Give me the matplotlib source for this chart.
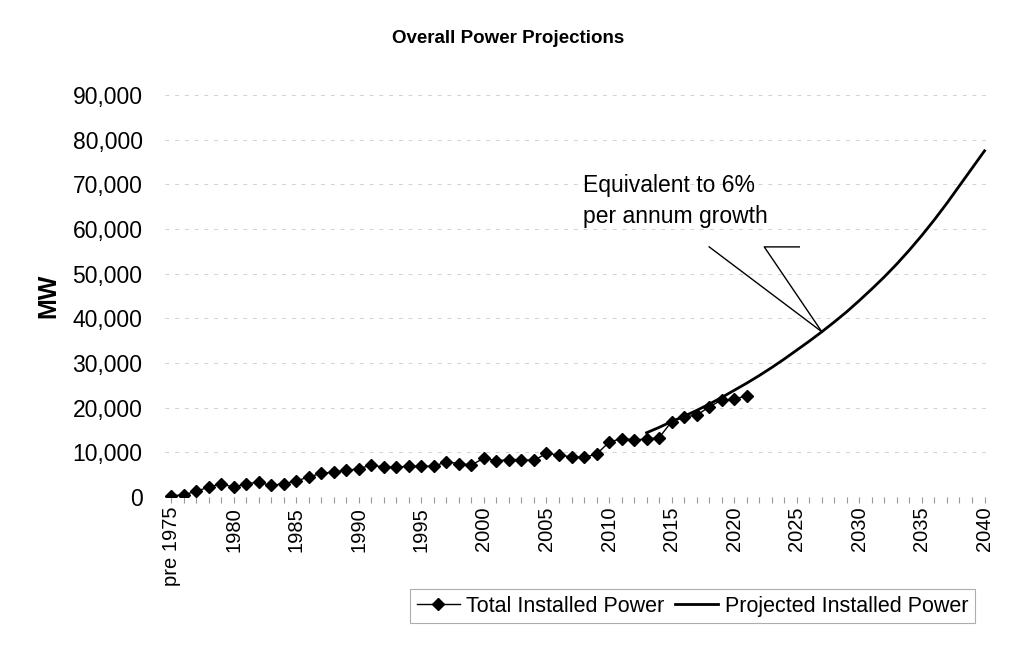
import matplotlib as mpl
mpl.use('Agg')
import matplotlib.pyplot as plt
import numpy as np

plt.rcParams['font.family'] = ['Liberation Sans', 'DejaVu Sans']

# years on the category axis (first one is shown as "pre 1975")
years = list(range(1975, 2041))
tick_labels = ["pre 1975" if y == 1975 else str(y) if y % 5 == 0 else "" for y in years]

# total installed power, MW, 1975..2021
installed_years = list(range(1975, 2022))
installed_mw = [300, 500, 1300, 2200, 3000, 2200, 3000, 3300, 2600, 3000,
                3600, 4500, 5300, 5600, 6000, 6300, 7200, 6700, 6700, 6900,
                6900, 6900, 7900, 7500, 7200, 8700, 8100, 8400, 8400, 8200,
                9800, 9400, 9000, 8900, 9600, 12300, 13100, 12800, 13000, 13300,
                16900, 18000, 18300, 20200, 21700, 21900, 22700]

# projected installed power, MW, 2013..2040
projected_years = list(range(2013, 2041))
projected_mw = [14400, 15600, 16900, 18100, 19400, 20800, 22300, 23900, 25500, 27200,
                29000, 30900, 32900, 34900, 37000, 39200, 41500, 44000, 46600, 49300,
                52200, 55300, 58600, 62100, 65800, 69700, 73600, 77500]

annot_text = "Equivalent to 6%\nper annum growth"

fig = plt.figure(figsize=(10.11, 6.69), dpi=100)
ax = fig.add_axes([0.163, 0.257, 0.817, 0.601])

xi = [years.index(y) for y in installed_years]
xp = [years.index(y) for y in projected_years]

ax.plot(xi, installed_mw, color='black', lw=1, marker='D', markersize=6,
        label="Total Installed Power")
ax.plot(xp, projected_mw, color='black', lw=2, label="Projected Installed Power")

# callout pointing at the curve in 2027
target = (years.index(2027), projected_mw[projected_years.index(2027)])
ax.plot([43.0, target[0]], [56000, target[1]], color='black', lw=1)
ax.plot([50.2, 47.4, target[0]], [56000, 56000, target[1]], color='black', lw=1)
ax.text(32.9, 72400, annot_text, fontsize=16.5, va='top', ha='left', linespacing=1.45)

ax.set_xlim(-0.5, len(years) - 0.5)
ax.set_ylim(0, 90000)
ax.set_yticks(np.arange(0, 90001, 10000))
ax.set_yticklabels(["{:,}".format(v) for v in range(0, 90001, 10000)], fontsize=16.5)
ax.set_xticks(range(len(years)))
ax.set_xticklabels(tick_labels, rotation=90, fontsize=14.5)
ax.tick_params(axis='x', length=4, color='0.6', pad=3)
ax.tick_params(axis='y', length=0, pad=16)

ax.yaxis.grid(True, color='0.82', linestyle=(0, (4, 6)), lw=0.7)
ax.set_axisbelow(True)
for s in ax.spines.values():
    s.set_visible(False)

ax.set_ylabel("MW", fontsize=18, fontweight='bold', labelpad=9)
fig.suptitle("Overall Power Projections", fontsize=13.5, fontweight='bold', x=0.503, y=0.955)

leg = fig.legend(loc='center', bbox_to_anchor=(0.685, 0.094), ncol=2, fontsize=15.5,
                 frameon=True, fancybox=False, handlelength=2, columnspacing=0.5,
                 handletextpad=0.3, borderpad=0.3)
leg.get_frame().set_edgecolor('0.6')
leg.get_frame().set_linewidth(0.8)

plt.savefig("out.png", dpi=100)
